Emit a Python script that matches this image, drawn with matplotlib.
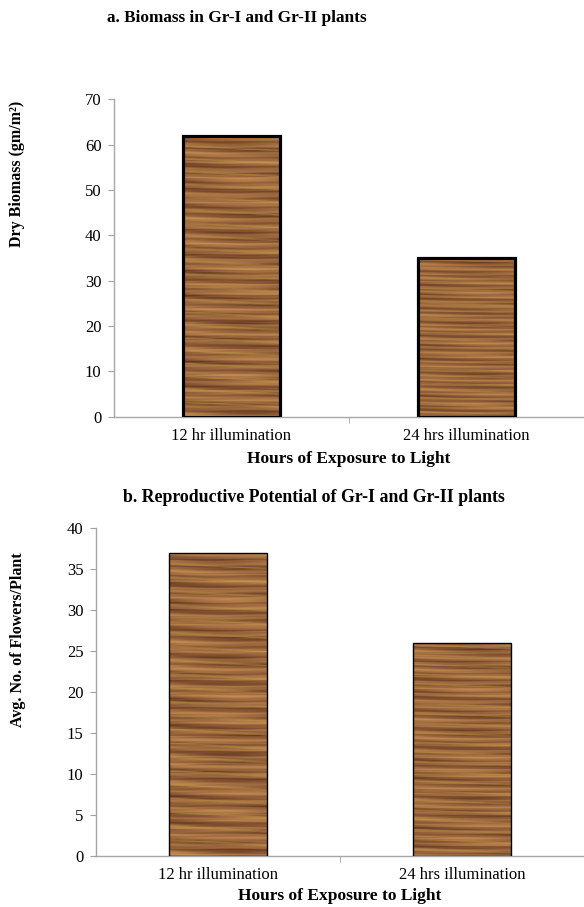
import numpy as np
import matplotlib
matplotlib.use("Agg")
import matplotlib.pyplot as plt

plt.rcParams['font.family'] = ['Liberation Serif', 'DejaVu Serif']

# data
categories = ['12 hr illumination', '24 hrs illumination']
biomass = [62, 35]
flowers = [37, 26]

title_a = 'a. Biomass in Gr-I and Gr-II plants'
title_b = 'b. Reproductive Potential of Gr-I and Gr-II plants'
xlabel = 'Hours of Exposure to Light'
ylabel_a = 'Dry Biomass (gm/m\u00b2)'
ylabel_b = 'Avg. No. of Flowers/Plant'


def wood_texture(nrows=260, ncols=80, seed_shift=0.0):
    # deterministic striped "wood" fill used only as a bar texture
    r = np.arange(nrows)[:, None] + seed_shift
    c = np.arange(ncols)[None, :]
    t = (0.45 * np.sin(r * 0.83 + 0.02 * c + 0.6 * np.sin(c * 0.05))
         + 0.30 * np.sin(r * 0.31 + 1.3 + 0.035 * c)
         + 0.25 * np.sin(r * 2.17 + 0.4 + 0.8 * np.sin(c * 0.09 + r * 0.02))
         + 0.15 * np.sin(r * 0.07 + 2.0) * np.cos(c * 0.06))
    t = (t - t.min()) / (t.max() - t.min())
    t = t ** 0.8
    dark = np.array([90, 48, 26]) / 255
    light = np.array([200, 142, 84]) / 255
    img = dark + t[..., None] * (light - dark)
    yel = np.clip(np.sin(r * 0.53 + 0.8 + 0.03 * c) - 0.85, 0, None) * 3
    img = img + yel[..., None] * (np.array([0.76, 0.64, 0.26]) - img)
    pur = np.clip(np.sin(r * 1.11 + 2.4 + 0.01 * c) - 0.9, 0, None) * 3
    img = img + pur[..., None] * (np.array([0.45, 0.25, 0.27]) - img)
    return np.clip(img, 0, 1)


def draw_panel(ax, values, ymax, ystep, bar_lw, width):
    x = np.arange(len(categories))
    bars = ax.bar(x, values, width=width, facecolor='none',
                  edgecolor='black', linewidth=bar_lw, zorder=3)
    for i, b in enumerate(bars):
        img = wood_texture(seed_shift=i * 17.0)
        im = ax.imshow(img, extent=(b.get_x(), b.get_x() + b.get_width(),
                                    0, b.get_height()),
                       aspect='auto', origin='lower', zorder=2,
                       interpolation='bilinear')
        im.set_clip_path(b)
    ax.set_xlim(-0.5, 1.5)
    ax.set_ylim(0, ymax)
    ax.set_yticks(np.arange(0, ymax + 1, ystep))
    ax.set_xticks(x)
    ax.set_xticklabels(categories, fontsize=12)
    ax.set_xticks([0.5], minor=True)
    ax.tick_params(axis='x', which='major', length=0, pad=8)
    ax.tick_params(axis='x', which='minor', length=4, color='#a0a0a0')
    ax.tick_params(axis='y', length=4, color='#a0a0a0', labelsize=12, pad=5)
    for s in ['top', 'right']:
        ax.spines[s].set_visible(False)
    for s in ['left', 'bottom']:
        ax.spines[s].set_color('#a6a6a6')
        ax.spines[s].set_linewidth(1.0)


fig = plt.figure(figsize=(5.84, 9.07), dpi=100)

ax1 = fig.add_axes([0.195, 0.5406, 0.805, 0.3497])
draw_panel(ax1, biomass, 70, 10, 2.3, 0.41)
ax1.set_ylabel(ylabel_a, fontsize=11.5, fontweight='bold')
ax1.yaxis.set_label_coords(-0.188, 0.766)
ax1.set_xlabel(xlabel, fontsize=12.5, fontweight='bold')
ax1.xaxis.set_label_coords(0.5, -0.108)

ax2 = fig.add_axes([0.1644, 0.0566, 0.8356, 0.3609])
draw_panel(ax2, flowers, 40, 5, 1.0, 0.40)
ax2.set_ylabel(ylabel_b, fontsize=11.5, fontweight='bold')
ax2.yaxis.set_label_coords(-0.144, 0.659)
ax2.set_xlabel(xlabel, fontsize=12.5, fontweight='bold')
ax2.xaxis.set_label_coords(0.5, -0.1)

fig.text(237 / 584, 1 - 18 / 907, title_a, ha='center', va='center',
         fontsize=12.4, fontweight='bold')
fig.text(314 / 584, 1 - 498 / 907, title_b, ha='center', va='center',
         fontsize=12.8, fontweight='bold')

fig.savefig('out.png', dpi=100)
